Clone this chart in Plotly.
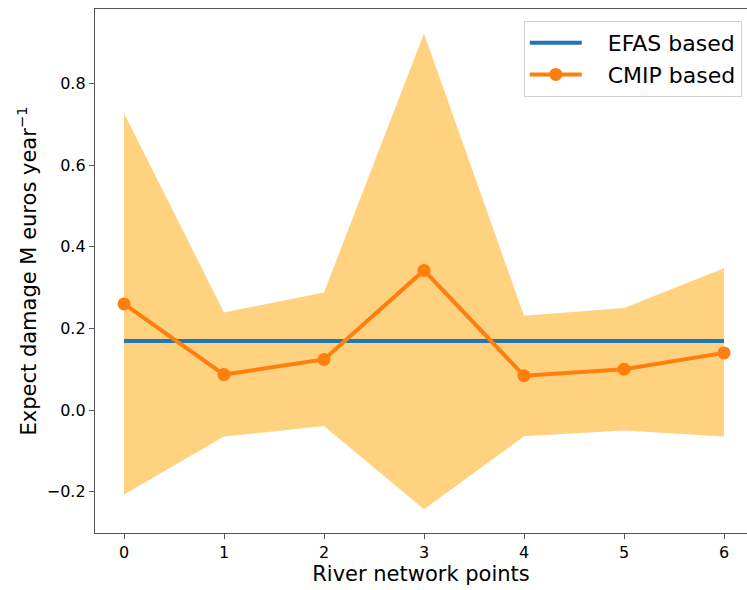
import plotly.graph_objects as go

# River network points and expected damage estimates (M euros / year)
points = [0, 1, 2, 3, 4, 5, 6]
efas_damage = [0.169, 0.169, 0.169, 0.169, 0.169, 0.169, 0.169]
cmip_damage = [0.260, 0.087, 0.124, 0.342, 0.084, 0.100, 0.140]
cmip_upper = [0.727, 0.239, 0.288, 0.922, 0.231, 0.250, 0.347]
cmip_lower = [-0.207, -0.065, -0.039, -0.243, -0.064, -0.050, -0.065]

x_ticks = [0, 1, 2, 3, 4, 5, 6]
y_ticks = [-0.2, 0.0, 0.2, 0.4, 0.6, 0.8]

FONT = "DejaVu Sans"
PAD = "\u00a0\u00a0\u00a0"  # gap between legend symbol and label

fig = go.Figure()

# CMIP spread band
fig.add_trace(go.Scatter(x=points, y=cmip_upper, mode="lines",
                         line=dict(width=0), showlegend=False, hoverinfo="skip"))
fig.add_trace(go.Scatter(x=points, y=cmip_lower, mode="lines",
                         line=dict(width=0), fill="tonexty",
                         fillcolor="rgba(255,165,0,0.5)",
                         showlegend=False, hoverinfo="skip"))

fig.add_trace(go.Scatter(x=points, y=efas_damage, mode="lines",
                         name=PAD + "EFAS based",
                         line=dict(color="#1f77b4", width=4)))
fig.add_trace(go.Scatter(x=points, y=cmip_damage, mode="lines+markers",
                         name=PAD + "CMIP based",
                         line=dict(color="#ff7f0e", width=4),
                         marker=dict(color="#ff7f0e", size=13)))

fig.update_layout(
    width=747, height=590,
    margin=dict(l=95, r=0, t=9, b=57),
    plot_bgcolor="white", paper_bgcolor="white",
    font=dict(family=FONT, size=16, color="black"),
    legend=dict(x=0.992, y=0.977, xanchor="right", yanchor="top",
                traceorder="normal",
                bgcolor="white", bordercolor="#d0d0d0", borderwidth=1,
                font=dict(family=FONT, size=22), itemwidth=52,
                tracegroupgap=0),
)

fig.update_xaxes(
    range=[-0.29, 6.23], tickvals=x_ticks, ticktext=[str(v) for v in x_ticks],
    showgrid=False, zeroline=False, showline=True, mirror=True,
    linecolor="#555555", linewidth=1.3,
    ticks="outside", ticklen=5, tickcolor="#555555",
    title=dict(text="River network points", font=dict(size=21), standoff=4),
)
fig.update_yaxes(
    range=[-0.301, 0.982], tickvals=y_ticks, tickformat=".1f",
    showgrid=False, zeroline=False, showline=True,
    linecolor="#555555", linewidth=1.3,
    ticks="outside", ticklen=5, tickcolor="#555555",
    title=dict(text="Expect damage M euros year<sup>\u22121</sup>",
               font=dict(size=21), standoff=4),
)

fig.write_html("out.html")
